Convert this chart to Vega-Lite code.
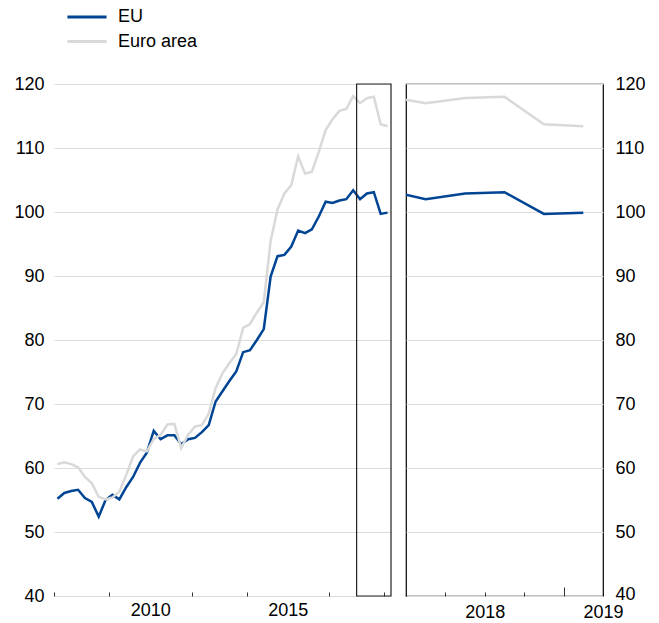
{
  "$schema": "https://vega.github.io/schema/vega-lite/v6.json",
  "background": "white",
  "padding": {"left": 13, "top": 8, "right": 10, "bottom": 5},
  "spacing": 13,
  "datasets": {
    "series": [
      {"t": 2007.125, "s": "EU", "v": 55.2},
      {"t": 2007.375, "s": "EU", "v": 56.1},
      {"t": 2007.625, "s": "EU", "v": 56.4},
      {"t": 2007.875, "s": "EU", "v": 56.6},
      {"t": 2008.125, "s": "EU", "v": 55.3},
      {"t": 2008.375, "s": "EU", "v": 54.7},
      {"t": 2008.625, "s": "EU", "v": 52.4},
      {"t": 2008.875, "s": "EU", "v": 55.0},
      {"t": 2009.125, "s": "EU", "v": 55.8},
      {"t": 2009.375, "s": "EU", "v": 55.1},
      {"t": 2009.625, "s": "EU", "v": 57.0},
      {"t": 2009.875, "s": "EU", "v": 58.6},
      {"t": 2010.125, "s": "EU", "v": 60.8},
      {"t": 2010.375, "s": "EU", "v": 62.4},
      {"t": 2010.625, "s": "EU", "v": 65.8},
      {"t": 2010.875, "s": "EU", "v": 64.5},
      {"t": 2011.125, "s": "EU", "v": 65.1},
      {"t": 2011.375, "s": "EU", "v": 65.1},
      {"t": 2011.625, "s": "EU", "v": 63.7},
      {"t": 2011.875, "s": "EU", "v": 64.5},
      {"t": 2012.125, "s": "EU", "v": 64.7},
      {"t": 2012.375, "s": "EU", "v": 65.6},
      {"t": 2012.625, "s": "EU", "v": 66.7},
      {"t": 2012.875, "s": "EU", "v": 70.4},
      {"t": 2013.125, "s": "EU", "v": 72.0},
      {"t": 2013.375, "s": "EU", "v": 73.6},
      {"t": 2013.625, "s": "EU", "v": 75.1},
      {"t": 2013.875, "s": "EU", "v": 78.1},
      {"t": 2014.125, "s": "EU", "v": 78.4},
      {"t": 2014.375, "s": "EU", "v": 80.0},
      {"t": 2014.625, "s": "EU", "v": 81.7},
      {"t": 2014.875, "s": "EU", "v": 89.9},
      {"t": 2015.125, "s": "EU", "v": 93.1},
      {"t": 2015.375, "s": "EU", "v": 93.3},
      {"t": 2015.625, "s": "EU", "v": 94.6},
      {"t": 2015.875, "s": "EU", "v": 97.1},
      {"t": 2016.125, "s": "EU", "v": 96.7},
      {"t": 2016.375, "s": "EU", "v": 97.3},
      {"t": 2016.625, "s": "EU", "v": 99.3},
      {"t": 2016.875, "s": "EU", "v": 101.6},
      {"t": 2017.125, "s": "EU", "v": 101.4},
      {"t": 2017.375, "s": "EU", "v": 101.8},
      {"t": 2017.625, "s": "EU", "v": 102.0},
      {"t": 2017.875, "s": "EU", "v": 103.4},
      {"t": 2018.125, "s": "EU", "v": 102.0},
      {"t": 2018.375, "s": "EU", "v": 102.9},
      {"t": 2018.625, "s": "EU", "v": 103.1},
      {"t": 2018.875, "s": "EU", "v": 99.7},
      {"t": 2019.125, "s": "EU", "v": 99.9},
      {"t": 2007.125, "s": "Euro area", "v": 60.6},
      {"t": 2007.375, "s": "Euro area", "v": 60.9},
      {"t": 2007.625, "s": "Euro area", "v": 60.6},
      {"t": 2007.875, "s": "Euro area", "v": 60.1},
      {"t": 2008.125, "s": "Euro area", "v": 58.6},
      {"t": 2008.375, "s": "Euro area", "v": 57.6},
      {"t": 2008.625, "s": "Euro area", "v": 55.5},
      {"t": 2008.875, "s": "Euro area", "v": 55.1},
      {"t": 2009.125, "s": "Euro area", "v": 55.4},
      {"t": 2009.375, "s": "Euro area", "v": 56.3},
      {"t": 2009.625, "s": "Euro area", "v": 58.9},
      {"t": 2009.875, "s": "Euro area", "v": 61.8},
      {"t": 2010.125, "s": "Euro area", "v": 62.9},
      {"t": 2010.375, "s": "Euro area", "v": 62.6},
      {"t": 2010.625, "s": "Euro area", "v": 64.5},
      {"t": 2010.875, "s": "Euro area", "v": 65.2},
      {"t": 2011.125, "s": "Euro area", "v": 66.8},
      {"t": 2011.375, "s": "Euro area", "v": 66.9},
      {"t": 2011.625, "s": "Euro area", "v": 63.1},
      {"t": 2011.875, "s": "Euro area", "v": 65.2},
      {"t": 2012.125, "s": "Euro area", "v": 66.5},
      {"t": 2012.375, "s": "Euro area", "v": 66.7},
      {"t": 2012.625, "s": "Euro area", "v": 68.5},
      {"t": 2012.875, "s": "Euro area", "v": 72.5},
      {"t": 2013.125, "s": "Euro area", "v": 74.8},
      {"t": 2013.375, "s": "Euro area", "v": 76.4},
      {"t": 2013.625, "s": "Euro area", "v": 77.8},
      {"t": 2013.875, "s": "Euro area", "v": 81.9},
      {"t": 2014.125, "s": "Euro area", "v": 82.5},
      {"t": 2014.375, "s": "Euro area", "v": 84.3},
      {"t": 2014.625, "s": "Euro area", "v": 85.9},
      {"t": 2014.875, "s": "Euro area", "v": 95.5},
      {"t": 2015.125, "s": "Euro area", "v": 100.4},
      {"t": 2015.375, "s": "Euro area", "v": 102.9},
      {"t": 2015.625, "s": "Euro area", "v": 104.2},
      {"t": 2015.875, "s": "Euro area", "v": 108.7},
      {"t": 2016.125, "s": "Euro area", "v": 106.0},
      {"t": 2016.375, "s": "Euro area", "v": 106.3},
      {"t": 2016.625, "s": "Euro area", "v": 109.4},
      {"t": 2016.875, "s": "Euro area", "v": 112.8},
      {"t": 2017.125, "s": "Euro area", "v": 114.5},
      {"t": 2017.375, "s": "Euro area", "v": 115.8},
      {"t": 2017.625, "s": "Euro area", "v": 116.1},
      {"t": 2017.875, "s": "Euro area", "v": 118.1},
      {"t": 2018.125, "s": "Euro area", "v": 117.0},
      {"t": 2018.375, "s": "Euro area", "v": 117.8},
      {"t": 2018.625, "s": "Euro area", "v": 118.0},
      {"t": 2018.875, "s": "Euro area", "v": 113.7},
      {"t": 2019.125, "s": "Euro area", "v": 113.4}
    ],
    "box": [{"x1": 2018, "x2": 2019.25, "y1": 40, "y2": 120}]
  },
  "config": {
    "font": "Liberation Sans",
    "view": {"stroke": null},
    "axis": {
      "labelFont": "Liberation Sans",
      "labelFontSize": 18,
      "labelColor": "#000",
      "title": null,
      "domain": false,
      "gridColor": "#dcdcdc",
      "gridWidth": 1,
      "tickColor": "#333",
      "tickWidth": 1
    },
    "legend": {
      "orient": "none",
      "legendX": 24,
      "legendY": -76,
      "padding": 0,
      "title": null,
      "symbolType": "M-3,0H3",
      "symbolSize": 170,
      "symbolStrokeWidth": 3,
      "labelFont": "Liberation Sans",
      "labelFontSize": 18,
      "labelColor": "#000",
      "labelOffset": 22,
      "rowPadding": 6.5
    }
  },
  "hconcat": [
    {
      "width": 337,
      "height": 512,
      "layer": [
        {
          "data": {"name": "series"},
          "mark": {"type": "line", "strokeWidth": 2.5, "clip": true},
          "encoding": {
            "x": {
              "field": "t",
              "type": "quantitative",
              "scale": {"domain": [2007, 2019.25], "nice": false, "zero": false},
              "axis": {
                "grid": false,
                "values": [2007, 2008, 2009, 2010, 2011, 2012, 2013, 2014, 2015, 2016, 2017, 2018, 2019, 2010.5, 2015.5],
                "tickSize": -4,
                "tickOpacity": {"condition": {"test": "datum.value % 1 != 0", "value": 0}, "value": 1},
                "labelExpr": "datum.value == 2010.5 ? '2010' : (datum.value == 2015.5 ? '2015' : '')",
                "labelOverlap": false,
                "labelFlush": false,
                "labelPadding": 9
              }
            },
            "y": {
              "field": "v",
              "type": "quantitative",
              "scale": {"domain": [40, 120], "nice": false, "zero": false},
              "axis": {"values": [40, 50, 60, 70, 80, 90, 100, 110, 120], "ticks": false, "labelPadding": 10}
            },
            "color": {
              "field": "s",
              "type": "nominal",
              "scale": {"domain": ["EU", "Euro area"], "range": ["#004494", "#d9d9d9"]}
            }
          }
        },
        {
          "data": {"name": "box"},
          "mark": {"type": "rect", "filled": false, "stroke": "#222", "strokeWidth": 1.2},
          "encoding": {
            "x": {"field": "x1", "type": "quantitative"},
            "x2": {"field": "x2"},
            "y": {"field": "y1", "type": "quantitative"},
            "y2": {"field": "y2"}
          }
        }
      ]
    },
    {
      "width": 197,
      "height": 512,
      "view": {"stroke": "#000", "strokeWidth": 1.2},
      "data": {"name": "series"},
      "mark": {"type": "line", "strokeWidth": 2.5, "clip": true},
      "encoding": {
        "x": {
          "field": "t",
          "type": "quantitative",
          "scale": {"domain": [2018, 2019.25], "nice": false, "zero": false},
          "axis": {
            "grid": false,
            "values": [2018.25, 2018.5, 2018.75, 2019, 2019.25],
            "tickSize": {"condition": {"test": "datum.value == 2019", "value": -9}, "value": -4},
            "tickOpacity": {"condition": {"test": "datum.value == 2019.25", "value": 0}, "value": 1},
            "labelExpr": "datum.value == 2018.5 ? '2018' : (datum.value == 2019.25 ? '2019' : '')",
            "labelOverlap": false,
            "labelFlush": false,
            "labelPadding": 11
          }
        },
        "y": {
          "field": "v",
          "type": "quantitative",
          "scale": {"domain": [40, 120], "nice": false, "zero": false},
          "axis": {
            "orient": "right",
            "values": [40, 50, 60, 70, 80, 90, 100, 110, 120],
            "ticks": false,
            "labelPadding": 12,
            "labelOffset": {"condition": {"test": "datum.value == 40", "value": -2}, "value": 0}
          }
        },
        "color": {
          "field": "s",
          "type": "nominal",
          "scale": {"domain": ["EU", "Euro area"], "range": ["#004494", "#d9d9d9"]}
        }
      }
    }
  ]
}
